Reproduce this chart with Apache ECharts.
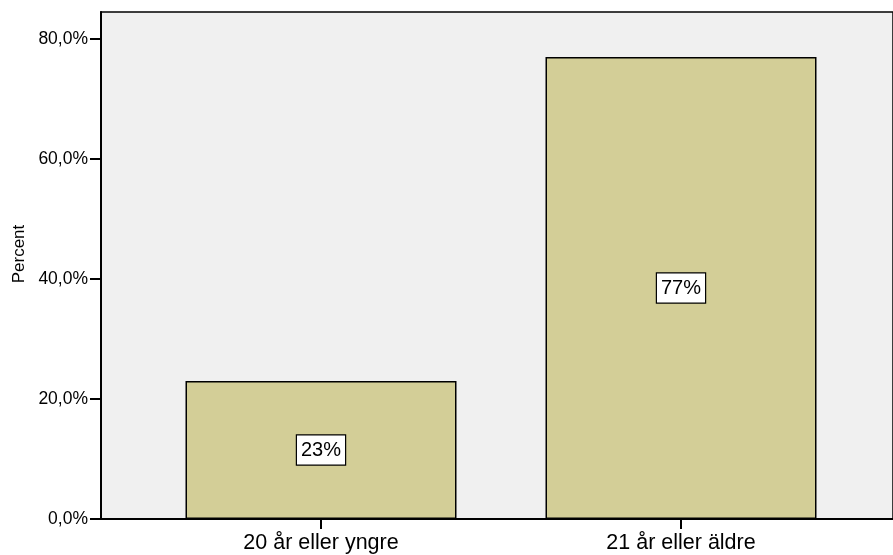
<!DOCTYPE html>
<html>
<head>
<meta charset="utf-8">
<style>
  html, body { margin: 0; padding: 0; background: #ffffff; }
  #chart { width: 893px; height: 555px; }
</style>
<script src="https://cdn.jsdelivr.net/npm/echarts@6/dist/echarts.min.js"></script>
</head>
<body>
<div id="chart"></div>
<script>
// Age groups and their share of respondents (percent)
var categories = ['20 år eller yngre', '21 år eller äldre'];
var percentValues = [23, 77];
var yTickValues = [0, 20, 40, 60, 80];
var yAxisTitle = 'Percent';

var Y_MAX = 84.5;
var FONT = '"Liberation Sans", Arial, sans-serif';

var chart = echarts.init(document.getElementById('chart'), null, { renderer: 'canvas' });

chart.setOption({
  animation: false,
  backgroundColor: '#ffffff',
  textStyle: { fontFamily: FONT },
  grid: [
    // frame with grey plot background and the visible axes
    { left: 101, right: -3, top: 12, bottom: 36, show: true,
      backgroundColor: '#f0f0f0', borderColor: '#000', borderWidth: 1.5 },
    // inner band where the bars sit
    { left: 141, width: 720, top: 12, bottom: 36 }
  ],
  xAxis: [
    { gridIndex: 0, type: 'value', min: 0, max: 1,
      axisLine: { show: true, lineStyle: { color: '#000', width: 2 } },
      axisTick: { show: false }, axisLabel: { show: false }, splitLine: { show: false } },
    { gridIndex: 1, type: 'category', data: categories,
      axisLine: { show: false },
      axisTick: { show: true, alignWithLabel: true, length: 10,
        lineStyle: { color: '#000', width: 2 } },
      axisLabel: { color: '#000', fontSize: 21.5, margin: 13, fontFamily: FONT } }
  ],
  yAxis: [
    { gridIndex: 0, type: 'value', min: 0, max: Y_MAX,
      axisLine: { show: true, lineStyle: { color: '#000', width: 2 } },
      axisTick: { show: true, length: 11, customValues: yTickValues,
        lineStyle: { color: '#000', width: 2 } },
      axisLabel: { show: true, customValues: yTickValues, color: '#000',
        fontSize: 17.5, margin: 13, fontFamily: FONT,
        formatter: function (v) { return v.toFixed(1).replace('.', ',') + '%'; } },
      splitLine: { show: false } },
    { gridIndex: 1, type: 'value', min: 0, max: Y_MAX, show: false,
      splitLine: { show: false } }
  ],
  graphic: [
    { type: 'text', rotation: Math.PI / 2,
      style: { text: yAxisTitle, fill: '#000', font: '17px ' + FONT,
        textAlign: 'center', textVerticalAlign: 'middle' },
      x: 19, y: 254 }
  ],
  series: [
    { type: 'bar', xAxisIndex: 1, yAxisIndex: 1,
      data: percentValues,
      barWidth: 271,
      itemStyle: { color: '#d3ce97', borderColor: '#000', borderWidth: 1.5 },
      label: { show: true, position: 'inside', color: '#000',
        fontSize: 20, fontFamily: FONT,
        backgroundColor: '#ffffff', borderColor: '#000', borderWidth: 1.2,
        padding: [5, 4, 4, 4],
        formatter: function (p) { return Math.round(p.value) + '%'; } } }
  ]
});
</script>
</body>
</html>
